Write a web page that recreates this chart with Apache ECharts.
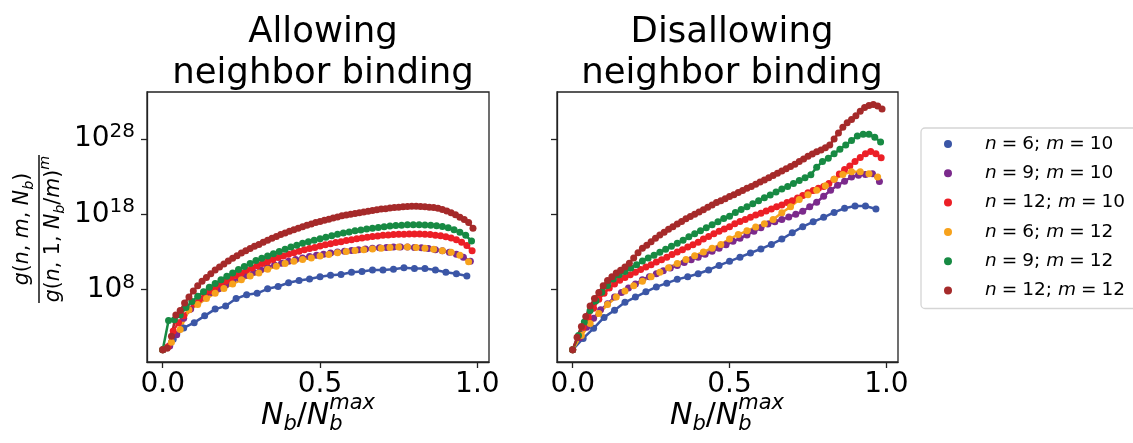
<!DOCTYPE html>
<html>
<head>
<meta charset="utf-8">
<script src="https://cdn.jsdelivr.net/npm/echarts@6/dist/echarts.min.js"></script>
<style>
  html, body { margin: 0; padding: 0; background: #fff; }
  #main { width: 1133px; height: 443px; }
</style>
</head>
<body>
<div id="main"></div>
<script>
// series labels
const nList = [6, 9, 12, 6, 9, 12];
const mList = [10, 10, 10, 12, 12, 12];
const nbMax = [30, 45, 60, 36, 54, 72];          // points per curve, x = k / nbMax
const colors = ['#3b56a6', '#7b2a8c', '#ec1f26', '#f7a21c', '#178a43', '#a52a2a'];

const xTicks = [0, 0.5, 1.0];
const yTickExp = [8, 18, 28];                     // log10 of tick values

// log10 of g(n,m,Nb)/g(n,1,Nb/m)^m, allowing neighbor binding
const allowN6M10 = [0, 1.4, 2.9, 3.6, 4.5, 5.4, 5.8, 6.8, 7.3, 7.5, 8.1, 8.4, 8.9, 9.2, 9.4, 9.7, 9.9, 10.0, 10.3, 10.4, 10.6, 10.6, 10.7, 10.9, 10.8, 10.8, 10.6, 10.3, 10.1, 9.8];
const allowN9M10 = [0, 0.5, 2.0, 4.2, 5.4, 6.2, 6.9, 7.6, 8.1, 8.6, 9.1, 9.5, 9.9, 10.3, 10.6, 10.95, 11.25, 11.5, 11.75, 12.0, 12.2, 12.4, 12.55, 12.7, 12.85, 13.0, 13.1, 13.2, 13.3, 13.4, 13.5, 13.55, 13.6, 13.65, 13.65, 13.65, 13.6, 13.55, 13.45, 13.3, 13.15, 12.95, 12.7, 12.3, 11.75];
const allowN12M10 = [0, 0.4, 2.5, 3.6, 4.5, 5.3, 6.1, 6.7, 7.3, 7.8, 8.25, 8.7, 9.1, 9.5, 9.85, 10.2, 10.55, 10.85, 11.15, 11.45, 11.7, 12.0, 12.25, 12.45, 12.7, 12.9, 13.1, 13.3, 13.45, 13.6, 13.8, 13.95, 14.1, 14.25, 14.35, 14.5, 14.6, 14.75, 14.85, 14.95, 15.05, 15.1, 15.2, 15.25, 15.3, 15.33, 15.36, 15.37, 15.37, 15.37, 15.35, 15.3, 15.23, 15.15, 15.0, 14.85, 14.6, 14.3, 13.85, 13.15];
const allowN6M12 = [0, 1.0, 2.7, 5.3, 6.0, 6.8, 7.5, 8.15, 8.75, 9.3, 9.8, 10.2, 10.7, 11.1, 11.45, 11.75, 12.0, 12.2, 12.45, 12.65, 12.9, 13.05, 13.2, 13.3, 13.4, 13.5, 13.6, 13.65, 13.65, 13.6, 13.5, 13.35, 13.15, 12.95, 12.55, 11.7];
const allowN9M12 = [0, 3.9, 4.0, 4.6, 5.6, 6.4, 7.1, 7.7, 8.3, 8.8, 9.3, 9.75, 10.2, 10.65, 11.05, 11.45, 11.85, 12.15, 12.45, 12.75, 13.05, 13.35, 13.65, 13.9, 14.15, 14.35, 14.55, 14.75, 14.95, 15.15, 15.35, 15.5, 15.65, 15.8, 15.9, 16.05, 16.15, 16.25, 16.35, 16.45, 16.5, 16.55, 16.6, 16.6, 16.6, 16.58, 16.55, 16.47, 16.38, 16.2, 15.95, 15.62, 15.2, 14.45];
const allowN12M12 = [0, 0.2, 1.8, 4.6, 5.2, 6.2, 7.0, 7.8, 8.5, 9.1, 9.6, 10.1, 10.6, 11.0, 11.4, 11.8, 12.15, 12.5, 12.85, 13.15, 13.45, 13.75, 14.0, 14.3, 14.55, 14.8, 15.05, 15.3, 15.5, 15.75, 15.95, 16.15, 16.35, 16.55, 16.7, 16.9, 17.05, 17.2, 17.35, 17.5, 17.65, 17.8, 17.9, 18.0, 18.1, 18.2, 18.3, 18.4, 18.5, 18.6, 18.7, 18.75, 18.85, 18.9, 18.95, 19.0, 19.05, 19.07, 19.07, 19.05, 19.0, 18.95, 18.9, 18.8, 18.65, 18.45, 18.2, 17.95, 17.6, 17.3, 16.9, 16.15];

// disallowing neighbor binding
const disN6M10 = [0, 1.5, 2.85, 4.3, 5.25, 6.3, 7.0, 7.7, 8.35, 8.85, 9.35, 9.7, 10.1, 10.6, 11.2, 11.75, 12.3, 12.85, 13.4, 14.0, 14.7, 15.55, 16.35, 17.0, 17.6, 18.25, 18.8, 19.1, 19.1, 18.7];
const disN9M10 = [0, 1.6, 3.0, 4.2, 5.3, 6.1, 7.0, 7.6, 8.2, 8.75, 9.3, 9.7, 10.1, 10.5, 10.85, 11.2, 11.6, 11.95, 12.3, 12.7, 13.1, 13.5, 13.95, 14.4, 14.8, 15.25, 15.75, 16.2, 16.7, 17.0, 17.3, 17.65, 18.0, 18.4, 19.0, 19.6, 20.4, 21.2, 21.85, 22.4, 22.95, 23.2, 23.3, 23.4, 22.35];
const disN12M10 = [0, 1.7, 3.0, 4.3, 5.5, 6.7, 7.5, 8.2, 8.75, 9.25, 9.6, 9.95, 10.3, 10.65, 11.0, 11.3, 11.65, 11.95, 12.3, 12.65, 13.0, 13.3, 13.65, 13.95, 14.3, 14.7, 15.05, 15.4, 15.75, 16.05, 16.35, 16.75, 17.05, 17.3, 17.6, 17.9, 18.15, 18.45, 18.7, 19.0, 19.25, 19.55, 19.8, 20.15, 20.5, 20.85, 21.15, 21.45, 21.7, 22.1, 22.65, 23.35, 23.95, 24.4, 25.0, 25.55, 26.05, 26.35, 26.05, 25.5];
const disN6M12 = [0, 1.9, 3.5, 4.8, 6.0, 7.0, 7.8, 8.5, 9.1, 9.7, 10.3, 10.9, 11.45, 12.0, 12.5, 13.0, 13.5, 14.0, 14.7, 15.3, 15.8, 16.3, 16.75, 17.3, 18.2, 19.0, 19.95, 20.6, 21.2, 21.8, 22.65, 23.3, 23.65, 23.65, 23.4, 22.95];
const disN9M12 = [0, 1.9, 3.7, 5.2, 6.5, 7.65, 8.55, 9.4, 9.95, 10.4, 10.85, 11.3, 11.8, 12.2, 12.55, 12.95, 13.35, 13.75, 14.15, 14.55, 15.0, 15.4, 15.8, 16.2, 16.6, 17.0, 17.45, 17.75, 18.25, 18.65, 19.0, 19.4, 19.8, 20.2, 20.55, 20.95, 21.35, 21.7, 22.1, 22.5, 22.85, 23.25, 24.25, 25.0, 25.45, 26.05, 26.65, 27.2, 27.8, 28.4, 28.65, 28.65, 28.25, 27.6];
const disN12M12 = [0, 1.65, 3.1, 4.4, 5.8, 6.8, 7.6, 8.5, 9.2, 9.7, 10.2, 10.55, 11.0, 11.5, 12.2, 12.9, 13.5, 13.9, 14.35, 14.8, 15.25, 15.6, 16.0, 16.35, 16.7, 17.05, 17.4, 17.7, 18.0, 18.3, 18.6, 18.95, 19.25, 19.55, 19.8, 20.05, 20.35, 20.6, 20.9, 21.15, 21.45, 21.7, 22.0, 22.3, 22.55, 22.85, 23.15, 23.45, 23.75, 24.05, 24.35, 24.65, 25.0, 25.35, 25.7, 26.0, 26.3, 26.55, 26.85, 27.2, 28.0, 28.8, 29.55, 30.15, 30.6, 31.1, 31.7, 32.2, 32.45, 32.6, 32.4, 32.0];

const allowing = [allowN6M10, allowN9M10, allowN12M10, allowN6M12, allowN9M12, allowN12M12];
const disallowing = [disN6M10, disN9M10, disN12M10, disN6M12, disN9M12, disN12M12];
const names = nList.map(function(n, i) { return 'n = ' + n + '; m = ' + mList[i]; });

const FONT = 'DejaVu Sans';

// measure text so sub/superscripts can be stacked
const mctx = document.createElement('canvas').getContext('2d');
function tw(t, size, it) {
    mctx.font = (it ? 'italic ' : '') + size + 'px "' + FONT + '"';
    return mctx.measureText(t).width;
}

function mathRow(tokens, size, cx, cy) {
    let x = 0, prevStart = 0, items = [];
    tokens.forEach(function(tk) {
        let s = (tk.sub || tk.sup) ? size * 0.7 : size;
        let start = tk.stack ? prevStart : x;
        let w = tw(tk.t, s, tk.it);
        let dy = tk.sub ? size * 0.3 : (tk.sup ? -size * 0.42 : 0);
        items.push({t: tk.t, x: start, s: s, it: tk.it, dy: dy});
        prevStart = start;
        x = tk.stack ? Math.max(x, start + w) : start + w;
    });
    return items.map(function(o) {
        return {
            type: 'text', x: cx - x / 2 + o.x, y: cy + o.dy,
            style: {text: o.t, fontSize: o.s, fontFamily: FONT, fontStyle: o.it ? 'italic' : 'normal',
                     fill: '#000', align: 'left', verticalAlign: 'middle'}
        };
    });
}

function pts(vals, n) {
    return vals.map(function(v, k) { return [k / n, v]; });
}

const xLabelTokens = [{t: 'N', it: 1}, {t: 'b', it: 1, sub: 1}, {t: '/'}, {t: 'N', it: 1},
                      {t: 'b', it: 1, sub: 1}, {t: 'max', it: 1, sup: 1, stack: 1}];
const numTokens = [{t: 'g', it: 1}, {t: '('}, {t: 'n', it: 1}, {t: ', '}, {t: 'm', it: 1}, {t: ', '},
                   {t: 'N', it: 1}, {t: 'b', it: 1, sub: 1}, {t: ')'}];
const denTokens = [{t: 'g', it: 1}, {t: '('}, {t: 'n', it: 1}, {t: ', 1, '}, {t: 'N', it: 1},
                   {t: 'b', it: 1, sub: 1}, {t: '/'}, {t: 'm', it: 1}, {t: ')'}, {t: 'm', it: 1, sup: 1}];

const grids = [
    {left: 147, top: 92, width: 342, height: 270},
    {left: 557, top: 92, width: 341, height: 270}
];

function xAx(gi) {
    return {
        type: 'value', gridIndex: gi, min: -0.05, max: 1.037,
        splitLine: {show: false},
        axisLine: {show: true, onZero: false, lineStyle: {color: '#222', width: 1.3}},
        axisTick: {show: true, length: 6, customValues: xTicks, lineStyle: {color: '#222', width: 1.3}},
        axisLabel: {customValues: xTicks, fontSize: 28, fontFamily: FONT, color: '#000', margin: 9,
                    formatter: function(v) { return v.toFixed(1); }}
    };
}

function yAx(gi) {
    return {
        type: 'value', gridIndex: gi, min: -1.63, max: 34.25,
        splitLine: {show: false},
        axisLine: {show: true, onZero: false, lineStyle: {color: '#222', width: 1.3}},
        axisTick: {show: true, length: 6, customValues: yTickExp, lineStyle: {color: '#222', width: 1.3}},
        axisLabel: {
            show: gi === 0, customValues: yTickExp, margin: 12,
            formatter: function(v) { return '{b|10}{s|' + v + '}'; },
            rich: {
                b: {fontSize: 28, fontFamily: FONT, color: '#000', lineHeight: 34},
                s: {fontSize: 20, fontFamily: FONT, color: '#000', lineHeight: 22, verticalAlign: 'top'}
            }
        }
    };
}

let series = [];
[allowing, disallowing].forEach(function(panel, gi) {
    panel.forEach(function(vals, i) {
        series.push({
            name: names[i], type: 'line', xAxisIndex: gi, yAxisIndex: gi,
            data: pts(vals, nbMax[i]),
            symbol: 'circle', symbolSize: 7, showSymbol: true,
            itemStyle: {color: colors[i]},
            lineStyle: {color: colors[i], width: 2.5},
            emphasis: {disabled: true}
        });
    });
});

let graphics = [];
graphics = graphics.concat(mathRow(xLabelTokens, 30, 318, 416));
graphics = graphics.concat(mathRow(xLabelTokens, 30, 727, 416));
graphics.push({
    type: 'group', x: 39, y: 229, rotation: Math.PI / 2,
    children: mathRow(numTokens, 20.5, 0, -16).concat(mathRow(denTokens, 20.5, 0, 15)).concat([{
        type: 'line', shape: {x1: -74, y1: 0, x2: 74, y2: 0}, style: {stroke: '#000', lineWidth: 1.4}
    }])
});

const chart = echarts.init(document.getElementById('main'));
chart.setOption({
    animation: false,
    backgroundColor: '#fff',
    title: [
        {text: 'Allowing\nneighbor binding', left: 318, top: 7, textAlign: 'center',
         textStyle: {fontSize: 35.5, lineHeight: 41, fontWeight: 'normal', fontFamily: FONT, color: '#000'}},
        {text: 'Disallowing\nneighbor binding', left: 727, top: 7, textAlign: 'center',
         textStyle: {fontSize: 35.5, lineHeight: 41, fontWeight: 'normal', fontFamily: FONT, color: '#000'}}
    ],
    grid: grids.map(function(g) {
        return Object.assign({show: true, borderColor: '#222', borderWidth: 1.3, backgroundColor: 'transparent'}, g);
    }),
    xAxis: [xAx(0), xAx(1)],
    yAxis: [yAx(0), yAx(1)],
    legend: {
        data: names, orient: 'vertical', left: 921, top: 128,
        padding: [6, 60, 8, 23], itemWidth: 8, itemHeight: 8, itemGap: 9.3, icon: 'circle',
        borderColor: '#d5d5d5', borderWidth: 1.3, borderRadius: 4,
        formatter: function(name) {
            let i = names.indexOf(name);
            return '{sp|}{i|n}{e|=}{t|' + nList[i] + ';}{g|}{i|m}{e|=}{t|' + mList[i] + '}';
        },
        textStyle: {
            fontSize: 18.5, color: '#000', fontFamily: FONT, lineHeight: 20,
            rich: {
                sp: {width: 28},
                g: {width: 6},
                i: {fontSize: 18.5, fontStyle: 'italic', fontFamily: FONT, color: '#000'},
                e: {fontSize: 18.5, fontFamily: FONT, color: '#000', padding: [0, 5, 0, 5]},
                t: {fontSize: 18.5, fontFamily: FONT, color: '#000'}
            }
        }
    },
    graphic: graphics,
    series: series
});
</script>
</body>
</html>
